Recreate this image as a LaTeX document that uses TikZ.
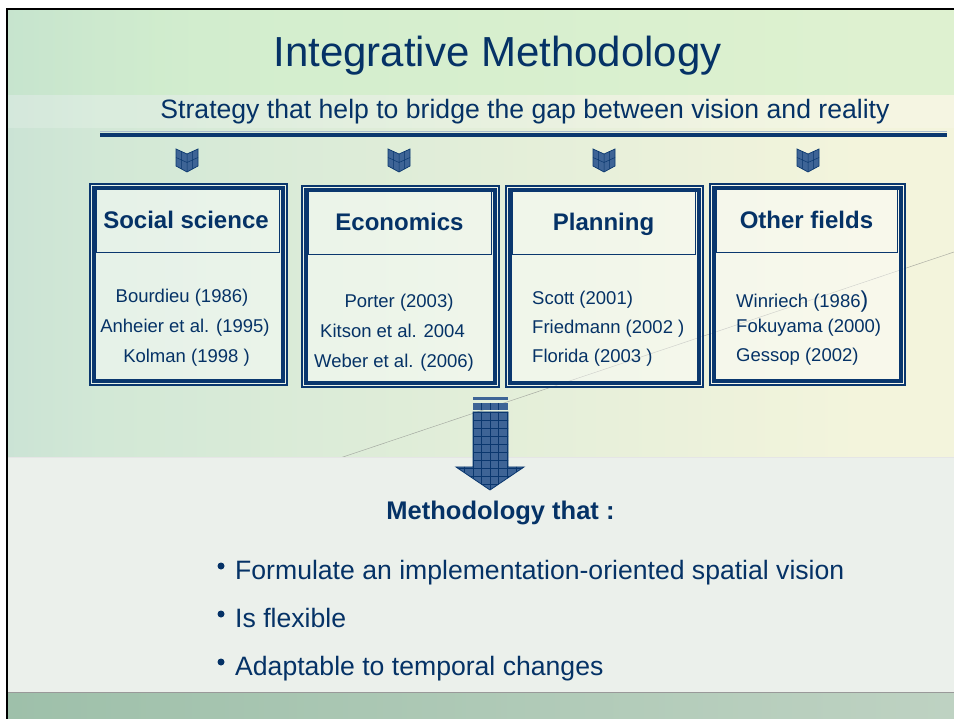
\documentclass[tikz,border=0pt]{standalone}
\usepackage{fontspec}
\setmainfont{Liberation Sans}
\usetikzlibrary{calc}
\definecolor{navy}{RGB}{10,55,110}
\definecolor{txt}{RGB}{5,50,102}
\definecolor{bgL}{RGB}{168,203,207}
\definecolor{bgM}{RGB}{210,232,214}
\definecolor{bgR}{RGB}{243,244,220}
\definecolor{grn}{RGB}{208,240,200}
\definecolor{panel}{RGB}{235,240,235}
\definecolor{bandL}{RGB}{158,192,170}
\definecolor{bandR}{RGB}{190,210,194}
\definecolor{tex}{RGB}{62,100,150}
\pgfdeclarehorizontalshading{bgsh}{100bp}{color(0bp)=(bgL); color(30bp)=(bgM); color(70bp)=(bgR); color(100bp)=(bgR)}
\pgfdeclarehorizontalshading{topsh}{100bp}{color(0bp)=(bgL); color(35bp)=(grn); color(100bp)=(grn)}
\tikzset{
  outerbox/.style={draw=navy, line width=1.2pt, fill=white, fill opacity=0.45, text opacity=1, inner sep=0pt},
  thickframe/.style={draw=navy, line width=4pt},
  headbox/.style={draw=navy, line width=0.8pt},
  headtxt/.style={font=\fontsize{24}{28}\selectfont\bfseries, text=txt, anchor=base, inner sep=0pt},
  bodytxt/.style={font=\fontsize{18.5}{22}\selectfont, text=txt, anchor=base, inner sep=0pt},
  bodyleft/.style={bodytxt, anchor=base west},
  bullettxt/.style={font=\fontsize{26.6}{30}\selectfont, text=txt, anchor=base west, inner sep=0pt},
  bulletdot/.style={circle, fill=txt, minimum size=7pt, inner sep=0pt},
  texfill/.style={fill=tex},
}
\begin{document}
\begin{tikzpicture}[x=1pt,y=-1pt]
\useasboundingbox (0,0) rectangle (954,719);
\fill[white] (0,0) rectangle (954,719);
% upper background
\shade[shading=bgsh] (7,9) rectangle (954,458);
\shade[shading=topsh, opacity=0.6] (7,9) rectangle (954,95);
\fill[white, opacity=0.18] (7,95) rectangle (954,128);
\draw[gray, opacity=0.6, line width=0.5pt] (340,458) -- (954,252);
% lower panel and bottom band
\fill[panel] (7,458) rectangle (954,692);
\draw[white!80!gray, line width=1pt] (7,458) -- (954,458);
\shade[left color=bandL, right color=bandR] (7,692) rectangle (954,719);
\draw[gray!80, line width=1pt] (7,692) -- (954,692);
% slide frame
\draw[black, line width=2pt] (7,719) -- (7,9) -- (954,9);

% title
\node[font=\fontsize{42}{48}\selectfont, text=txt, anchor=base, inner sep=0pt] (title) at (497.5,67) {Integrative Methodology};
\node[font=\fontsize{26.6}{30}\selectfont, text=txt, anchor=base, inner sep=0pt] (subtitle) at (525,119) {Strategy that help to bridge the gap between vision and reality};
\draw[navy!35!white, line width=1pt] (100,131.5) -- (947,131.5);
\draw[navy, line width=3.5pt] (100,135) -- (947,135);

% icons
\foreach \cx/\nm in {187/i1,399/i2,604/i3,808/i4}{
  \fill[texfill] (\cx-11,149) -- (\cx,154) -- (\cx+11,149) -- (\cx+11,166) -- (\cx,172) -- (\cx-11,166) -- cycle;
  \draw[navy, line width=0.7pt] (\cx-11,149) -- (\cx,154) -- (\cx+11,149) -- (\cx+11,166) -- (\cx,172) -- (\cx-11,166) -- cycle;
  \draw[navy, line width=0.5pt] (\cx,154) -- (\cx,172) (\cx-5.5,151.5) -- (\cx-5.5,169) (\cx+5.5,151.5) -- (\cx+5.5,169)
      (\cx-11,157.5) -- (\cx,162.5) -- (\cx+11,157.5);
  \coordinate (\nm) at (\cx,160);
}

% boxes
\foreach \nm/\cx/\cy/\w in {b1/188.5/284.5/197, b2/400.5/286.5/197, b3/604.5/286.5/197, b4/807.5/284.5/195}{
  \node[outerbox, minimum width=\w pt, minimum height=201pt] (\nm) at (\cx,\cy) {};
  \draw[thickframe] ($(\nm.north west)+(5,5)$) rectangle ($(\nm.south east)+(-5,-5)$);
  \draw[headbox] ($(\nm.north west)+(7,6)$) rectangle ($(\nm.north east)+(-8,69)$);
}

% headers
\node[headtxt] (h1) at (186,229) {Social science};
\node[headtxt] (h2) at (399.5,231) {Economics};
\node[headtxt] (h3) at (603.5,231) {Planning};
\node[headtxt] (h4) at (806.5,229) {Other fields};

% box texts
\node[bodytxt] (t11) at (182,303) {Bourdieu (1986)};
\node[bodytxt] (t12) at (185,333) {Anheier et al. (1995)};
\node[bodytxt] (t13) at (186.5,363) {Kolman (1998 )};
\node[bodytxt] (t21) at (399,308) {Porter (2003)};
\node[bodytxt] (t22) at (392.5,338) {Kitson et al. 2004};
\node[bodytxt] (t23) at (394,368) {Weber et al. (2006)};
\node[bodyleft] (t31) at (532,305) {Scott (2001)};
\node[bodyleft] (t32) at (532,334) {Friedmann (2002 )};
\node[bodyleft] (t33) at (532,363) {Florida (2003 )};
\node[bodyleft] (t41) at (736,308) {Winriech (1986{\fontsize{23}{24}\selectfont)}};
\node[bodyleft] (t42) at (736,333) {Fokuyama (2000)};
\node[bodyleft] (t43) at (736,362) {Gessop (2002)};

% big arrow
\fill[texfill] (473,397.5) rectangle (508,400.5);
\fill[texfill] (473,403) rectangle (508,410);
\begin{scope}
  \clip (473,412) -- (508,412) -- (508,467) -- (524,467) -- (490,490) -- (456,467) -- (473,467) -- cycle;
  \fill[texfill] (450,395) rectangle (530,495);
  \foreach \xx in {464,473,481.5,490,498.5,507,516}{\draw[navy, line width=0.8pt] (\xx,395) -- (\xx,495);}
  \foreach \yy in {412,420,428,436,444,452,460,468,476,484}{\draw[navy, line width=0.8pt] (450,\yy) -- (530,\yy);}
\end{scope}
\draw[navy, line width=0.8pt] (473,412) -- (508,412) -- (508,467) -- (524,467) -- (490,490) -- (456,467) -- (473,467) -- cycle;
\foreach \xx in {481.5,490,498.5}{\draw[navy, line width=0.5pt] (\xx,403) -- (\xx,410);}

% methodology text
\node[font=\fontsize{25.5}{30}\selectfont\bfseries, text=txt, anchor=base, inner sep=0pt] (meth) at (500.5,519) {Methodology that :};

% bullets
\node[bulletdot] (d1) at (221,566) {};
\node[bulletdot] (d2) at (221,614) {};
\node[bulletdot] (d3) at (221,662) {};
\node[bullettxt] (l1) at (235,579) {Formulate an implementation-oriented spatial vision};
\node[bullettxt] (l2) at (235,627) {Is flexible};
\node[bullettxt] (l3) at (235,675) {Adaptable to temporal changes};
\end{tikzpicture}
\end{document}
